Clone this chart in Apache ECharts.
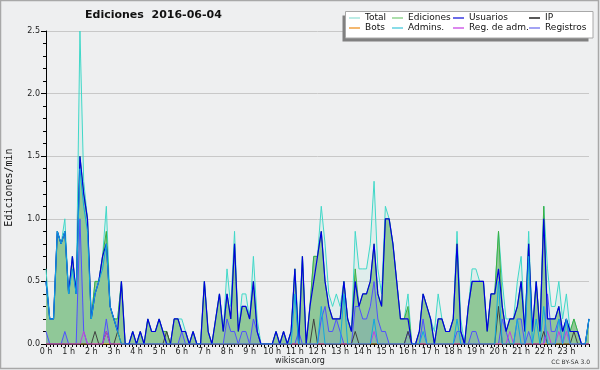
<!DOCTYPE html>
<html>
<head>
<meta charset="utf-8">
<script src="https://cdn.jsdelivr.net/npm/echarts@6/dist/echarts.min.js"></script>
<style>
html,body{margin:0;padding:0;background:#eeeff0;}
#chart{width:600px;height:370px;}
</style>
</head>
<body>
<div id="chart"></div>
<script>
// ---- tick labels ----
const hourLabels = ['0 h','1 h','2 h','3 h','4 h','5 h','6 h','7 h','8 h','9 h','10 h','11 h',
  '12 h','13 h','14 h','15 h','16 h','17 h','18 h','19 h','20 h','21 h','22 h','23 h'];
const yTicks = [0, 0.5, 1.0, 1.5, 2.0, 2.5];

// ---- 10-minute slots 00:00 .. 24:00 ----
const categories = [];
for (let i = 0; i <= 144; i++) {
  const h = Math.floor(i / 6), m = (i % 6) * 10;
  categories.push(String(h).padStart(2, '0') + ':' + String(m).padStart(2, '0'));
}

// ---- series values (edits per minute, 10-min bins) ----
const total = [
  0.6,0.2,0.2,0.9,0.8,1.0,0.4,0.7,0.4,2.5,1.3,1.0,
  0.2,0.5,0.5,0.7,1.1,0.3,0.2,0.2,0.5,0,0,0.1,
  0,0.1,0,0.2,0.1,0.1,0.2,0.1,0.1,0,0.2,0.2,
  0.2,0.1,0,0.1,0,0,0.5,0.1,0,0.2,0.4,0.1,
  0.6,0.3,0.9,0.1,0.4,0.4,0.2,0.7,0.2,0,0,0,
  0,0.1,0,0.1,0,0.1,0.6,0.1,0.7,0,0.3,0.7,
  0.7,1.1,0.8,0.4,0.3,0.4,0.3,0.5,0.2,0.1,0.9,0.6,
  0.6,0.6,0.8,1.3,0.6,0.4,1.1,1.0,0.8,0.5,0.2,0.2,
  0.4,0,0,0.1,0.4,0.3,0.2,0.1,0.4,0.2,0.1,0.1,
  0.2,0.9,0.2,0,0.3,0.6,0.6,0.5,0.5,0.1,0.4,0.4,
  0.9,0.5,0.2,0.2,0.2,0.5,0.7,0.1,0.9,0.1,0.5,0.1,
  1.1,0.6,0.3,0.3,0.5,0.2,0.4,0.1,0.2,0.1,0,0,
  0.2];
const ediciones = [
  0.5,0.2,0.2,0.9,0.8,0.9,0.4,0.7,0.4,1.5,1.2,1.0,
  0.2,0.5,0.5,0.7,0.9,0.3,0.2,0.2,0.5,0,0,0.1,
  0,0.1,0,0.2,0.1,0.1,0.2,0.1,0.1,0,0.2,0.2,
  0.1,0.1,0,0.1,0,0,0.5,0.1,0,0.2,0.4,0.1,
  0.4,0.2,0.8,0.1,0.3,0.3,0.2,0.5,0.1,0,0,0,
  0,0.1,0,0.1,0,0.1,0.6,0,0.7,0,0.3,0.7,
  0.7,0.9,0.5,0.3,0.2,0.2,0.2,0.5,0.2,0.1,0.6,0.3,
  0.4,0.4,0.5,0.8,0.4,0.3,1.0,1.0,0.8,0.5,0.2,0.2,
  0.3,0,0,0.1,0.4,0.3,0.2,0,0.2,0.2,0.1,0.1,
  0.2,0.8,0.1,0,0.3,0.5,0.5,0.5,0.5,0.1,0.4,0.4,
  0.9,0.3,0.1,0.2,0.2,0.3,0.5,0.1,0.8,0.1,0.5,0.1,
  1.1,0.2,0.2,0.2,0.3,0.1,0.2,0.1,0.2,0.1,0,0,
  0.2];
const usuarios = [
  0.5,0.2,0.2,0.9,0.8,0.9,0.4,0.7,0.4,1.5,1.2,1.0,
  0.2,0.4,0.5,0.7,0.8,0.3,0.2,0.1,0.5,0,0,0.1,
  0,0.1,0,0.2,0.1,0.1,0.2,0.1,0,0,0.2,0.2,
  0.1,0.1,0,0.1,0,0,0.5,0.1,0,0.2,0.4,0.1,
  0.4,0.2,0.8,0.1,0.3,0.3,0.2,0.5,0.1,0,0,0,
  0,0.1,0,0.1,0,0.1,0.6,0,0.7,0,0.3,0.5,
  0.7,0.9,0.5,0.3,0.2,0.2,0.2,0.5,0.2,0.1,0.5,0.3,
  0.4,0.4,0.5,0.8,0.4,0.3,1.0,1.0,0.8,0.5,0.2,0.2,
  0.2,0,0,0.1,0.4,0.3,0.2,0,0.2,0.2,0.1,0.1,
  0.2,0.8,0.1,0,0.3,0.5,0.5,0.5,0.5,0.1,0.4,0.4,
  0.6,0.3,0.1,0.2,0.2,0.3,0.5,0.1,0.8,0.1,0.5,0.1,
  1.0,0.2,0.2,0.2,0.3,0.1,0.2,0.1,0.1,0.1,0,0,
  0.2];
const ip = [
  0,0,0,0,0,0,0,0,0,0,0,0,
  0,0.1,0,0,0.1,0,0,0.1,0,0,0,0,
  0,0,0,0,0,0,0,0,0.1,0,0,0,
  0,0,0,0,0,0,0,0,0,0,0,0,
  0,0,0,0,0,0,0,0,0,0,0,0,
  0,0,0,0,0,0,0,0,0,0,0,0.2,
  0,0,0,0,0,0,0,0,0,0,0.1,0,
  0,0,0,0,0,0,0,0,0,0,0,0,
  0.1,0,0,0,0,0,0,0,0,0,0,0,
  0,0,0,0,0,0,0,0,0,0,0,0,
  0.3,0,0,0,0,0,0,0,0,0,0,0,
  0.1,0,0,0,0,0,0,0,0.1,0,0,0,
  0];
const bots = [
  0,0,0,0,0,0,0,0,0,0,0,0,
  0,0,0,0,0,0,0,0,0,0,0,0,
  0,0,0,0,0,0,0,0,0,0,0,0,
  0,0,0,0,0,0,0,0,0,0,0,0,
  0,0,0,0,0,0,0,0,0,0,0,0,
  0,0,0,0,0,0,0,0,0,0,0,0,
  0,0,0,0,0,0,0,0,0,0,0,0,
  0,0,0,0,0,0,0,0,0,0,0,0,
  0,0,0,0,0,0,0,0,0,0,0,0,
  0,0,0,0,0,0,0,0,0,0,0,0,
  0,0,0,0,0,0,0,0,0,0,0,0,
  0,0,0,0,0,0,0,0,0,0,0,0,
  0];
const admins = [
  0.5,0.2,0.2,0.9,0.8,0.9,0.4,0.6,0.4,1.4,1.1,0.9,
  0.2,0.4,0.5,0.6,0.8,0.3,0.2,0.1,0,0,0,0,
  0,0,0,0,0,0,0,0,0,0,0,0,
  0,0,0,0,0,0,0,0,0,0,0,0,
  0,0,0,0,0,0,0,0,0,0,0,0,
  0,0,0,0,0,0,0.4,0,0,0,0,0,
  0,0.3,0,0,0,0,0,0.4,0,0,0,0,
  0,0,0,0.2,0,0,0,0,0,0,0,0,
  0,0,0,0,0.1,0,0,0,0,0,0,0,
  0,0.2,0,0,0,0,0,0,0,0,0,0,
  0.5,0,0,0,0,0.2,0,0,0.7,0,0.2,0,
  0.3,0,0,0,0.2,0,0.2,0,0,0,0,0,
  0.2];
const regAdm = [
  0,0,0,0,0,0,0,0,0,0,0.1,0,
  0,0,0,0,0.1,0,0,0,0,0,0,0,
  0,0,0,0,0,0,0,0,0,0,0,0,
  0,0,0,0,0,0,0,0,0,0,0,0,
  0,0,0,0,0,0,0,0,0,0,0,0,
  0,0,0,0,0,0,0,0,0,0,0,0,
  0,0,0,0,0,0,0,0,0,0,0,0,
  0,0,0,0.1,0,0,0,0,0,0,0,0,
  0,0,0,0,0,0,0,0,0,0,0,0,
  0,0,0,0,0,0,0,0,0,0,0,0,
  0,0,0,0.1,0,0,0,0,0,0,0,0,
  0,0.1,0,0,0.1,0,0.1,0,0,0,0,0,
  0];
const registros = [
  0.1,0,0,0,0,0.1,0,0,0,1.0,0.1,0,
  0,0,0,0,0.2,0,0,0,0,0,0,0,
  0,0,0,0,0,0,0,0,0,0,0,0,
  0.1,0,0,0,0,0,0,0,0,0,0,0,
  0.2,0.1,0.1,0,0.1,0.1,0,0.2,0.1,0,0,0,
  0,0,0,0,0,0,0,0.1,0,0,0,0,
  0,0.2,0.3,0.1,0.1,0.2,0.1,0,0,0,0.3,0.3,
  0.2,0.2,0.3,0.5,0.2,0.1,0.1,0,0,0,0,0,
  0.1,0,0,0,0.2,0,0,0,0,0,0,0,
  0,0.1,0.1,0,0,0.1,0.1,0,0,0,0,0,
  0,0.2,0.1,0,0,0.2,0.2,0,0.1,0,0,0,
  0,0.4,0.1,0.1,0.2,0.1,0.2,0,0,0,0,0,
  0];

const FONT = 'DejaVu Sans';
const chart = echarts.init(document.getElementById('chart'), null, {renderer: 'canvas'});

function lineSeries(name, data, color, width, z, extra) {
  return Object.assign({
    name: name, type: 'line', data: data, symbol: 'none', z: z,
    lineStyle: {color: color, width: width},
    itemStyle: {color: color},
    emphasis: {disabled: true}
  }, extra || {});
}

function legendCol(left, items) {
  return {
    orient: 'vertical', left: left, top: 13, itemGap: 0,
    itemWidth: 11, itemHeight: 1.5, icon: 'rect', z: 30,
    padding: 0, selectedMode: false,
    textStyle: {fontFamily: FONT, fontSize: 9, color: '#111', lineHeight: 10, padding: [0, 0, 0, 0]},
    data: items
  };
}

chart.setOption({
  animation: false,
  backgroundColor: '#eeeff0',
  textStyle: {fontFamily: FONT},
  title: {
    text: 'Ediciones  2016-06-04', left: 85, top: 10, padding: 0,
    textStyle: {fontFamily: FONT, fontSize: 11, fontWeight: 'bold', color: '#111'}
  },
  legend: [
    legendCol(349, [{name: 'Total', itemStyle: {color: '#a6e6de'}}, {name: 'Bots', itemStyle: {color: '#f0a040'}}]),
    legendCol(392, [{name: 'Ediciones', itemStyle: {color: '#90d490'}}, {name: 'Admins.', itemStyle: {color: '#60d0e0'}}]),
    legendCol(453, [{name: 'Usuarios', itemStyle: {color: '#3a3ae0'}}, {name: 'Reg. de adm.', itemStyle: {color: '#d060e8'}}]),
    legendCol(529, [{name: 'IP', itemStyle: {color: '#202020'}}, {name: 'Registros', itemStyle: {color: '#8484f0'}}])
  ],
  grid: {left: 46, right: 11, top: 31, bottom: 26, containLabel: false, outerBoundsMode: 'none'},
  xAxis: {
    type: 'category', data: categories, boundaryGap: false,
    axisLine: {lineStyle: {color: '#000', width: 1}},
    axisTick: {show: true, interval: 0, length: 3, lineStyle: {color: '#000'}},
    axisLabel: {
      interval: function (i) { return i % 6 === 0 && i < 144; },
      formatter: function (v, i) { return hourLabels[i / 6]; },
      fontFamily: FONT, fontSize: 8, color: '#222', margin: 4
    },
    splitLine: {show: false}
  },
  yAxis: {
    type: 'value', min: yTicks[0], max: yTicks[yTicks.length - 1], interval: 0.5,
    name: 'Ediciones/min', nameLocation: 'middle', nameGap: 32, nameRotate: 90,
    nameTextStyle: {fontFamily: 'DejaVu Sans Mono', fontSize: 10, color: '#111'},
    axisLine: {show: true, lineStyle: {color: '#000', width: 1}},
    axisTick: {show: true, length: 5, lineStyle: {color: '#000'}},
    minorTick: {show: true, splitNumber: 5, length: 3, lineStyle: {color: '#000'}},
    axisLabel: {
      formatter: function (v) { return v.toFixed(1); },
      fontFamily: FONT, fontSize: 8, color: '#222', margin: 6
    },
    splitLine: {show: true, lineStyle: {color: '#c8c8c8', width: 1}},
    minorSplitLine: {show: false}
  },
  graphic: [
    {type: 'rect', z: 25, shape: {x: 342.5, y: 15.5, width: 246, height: 26}, style: {fill: '#808080'}},
    {type: 'rect', z: 26, shape: {x: 345.5, y: 11.5, width: 247.5, height: 26.5}, style: {fill: '#ffffff', stroke: '#a8a8a8', lineWidth: 1}},
    {type: 'text', z: 30, x: 300, y: 361, style: {text: 'wikiscan.org', fontFamily: FONT, fontSize: 8, fill: '#222', textAlign: 'center', textVerticalAlign: 'middle'}},
    {type: 'text', z: 30, x: 590, y: 362, style: {text: 'CC BY-SA 3.0', fontFamily: FONT, fontSize: 6, fill: '#333', textAlign: 'right', textVerticalAlign: 'middle'}},
    {type: 'rect', z: 40, shape: {x: 0.5, y: 0.5, width: 598, height: 368}, style: {fill: 'none', stroke: '#a8a8a8', lineWidth: 1.5}}
  ],
  series: [
    lineSeries('Total', total, '#40d8c8', 1, 2, {areaStyle: {color: 'rgba(64,216,200,0.12)'}}),
    lineSeries('Ediciones', ediciones, '#3cb043', 1, 3, {areaStyle: {color: '#90c898', opacity: 1}}),
    lineSeries('Registros', registros, '#5050ff', 1, 4, {areaStyle: {color: 'rgba(80,80,255,0.18)'}}),
    lineSeries('Bots', bots, '#ff9900', 1, 5),
    lineSeries('IP', ip, '#404040', 1, 5),
    lineSeries('Reg. de adm.', regAdm, '#c040e0', 1, 5),
    lineSeries('Usuarios', usuarios, '#0000e0', 1.2, 6),
    lineSeries('Admins.', admins, '#10a8e0', 1, 7)
  ]
});
</script>
</body>
</html>
